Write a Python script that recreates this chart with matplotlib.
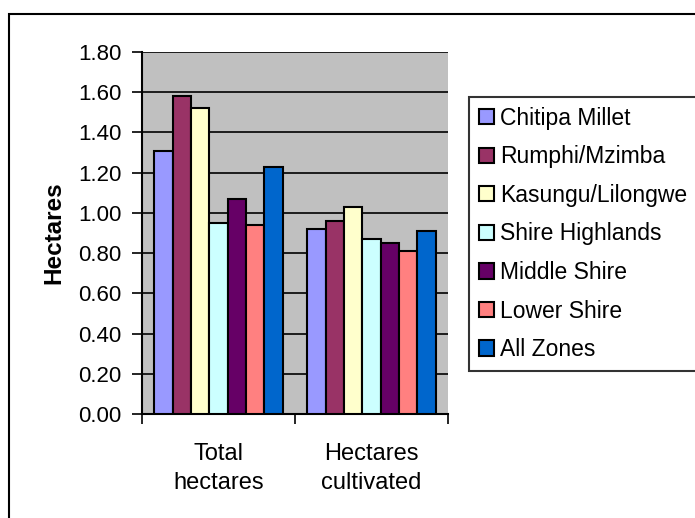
import matplotlib
matplotlib.use("Agg")
import matplotlib.pyplot as plt
from matplotlib.patches import Rectangle
import numpy as np

plt.rcParams["font.family"] = ["Liberation Sans", "DejaVu Sans"]

categories = ["Total\nhectares", "Hectares\ncultivated"]
zones = ["Chitipa Millet", "Rumphi/Mzimba", "Kasungu/Lilongwe", "Shire Highlands",
         "Middle Shire", "Lower Shire", "All Zones"]
chitipa = [1.31, 0.92]
rumphi = [1.58, 0.96]
kasungu = [1.52, 1.03]
shire_highlands = [0.95, 0.87]
middle_shire = [1.07, 0.85]
lower_shire = [0.94, 0.81]
all_zones = [1.23, 0.91]
series = [chitipa, rumphi, kasungu, shire_highlands, middle_shire, lower_shire, all_zones]
colors = ["#9999FF", "#993366", "#FFFFCC", "#CCFFFF", "#660066", "#FF8080", "#0066CC"]

W, H = 695, 518
fig = plt.figure(figsize=(W / 100, H / 100), dpi=100)
ax = fig.add_axes([142 / W, 1 - 414 / H, 306 / W, (414 - 52) / H])
ax.set_facecolor("#C0C0C0")

centers = np.arange(len(categories)) + 0.5
group = 0.84
bw = group / len(series)
for i, (vals, c, name) in enumerate(zip(series, colors, zones)):
    x = centers - group / 2 + bw * (i + 0.5)
    ax.bar(x, vals, width=bw, color=c, edgecolor="black", linewidth=1.5, label=name, zorder=3)

ax.set_xlim(0, 2)
ax.set_ylim(0, 1.8)
ax.set_yticks(np.arange(0, 1.81, 0.2))
ax.set_yticklabels([f"{v:.2f}" for v in np.arange(0, 1.81, 0.2)])
ax.yaxis.grid(True, color="black", linewidth=1.2, zorder=1)
ax.set_axisbelow(True)

# category edges get the tick marks, names sit between them
ax.set_xticks([0, 1, 2])
ax.set_xticklabels([])
ax.set_xticks(centers, minor=True)
ax.set_xticklabels(categories, minor=True, linespacing=1.38)
ax.tick_params(axis="x", which="minor", length=0, pad=21, labelsize=17)
ax.tick_params(axis="x", which="major", length=7, width=1.2, direction="out")
ax.tick_params(axis="y", length=7, width=1.2, direction="out", pad=8, labelsize=16)

for s in ["top", "right"]:
    ax.spines[s].set_visible(False)
for s in ["left", "bottom"]:
    ax.spines[s].set_linewidth(1.5)

ax.set_ylabel("Hectares", fontsize=17.5, fontweight="bold", labelpad=9)

leg = fig.legend(loc="upper left", bbox_to_anchor=(469 / W, 1 - 97 / H),
                 frameon=True, fancybox=False, edgecolor="black", fontsize=16.5,
                 handlelength=0.65, handleheight=0.65, handletextpad=0.3,
                 labelspacing=0.68, borderaxespad=0, borderpad=0.42)
leg.get_frame().set_linewidth(1.5)
for h in leg.legend_handles:
    h.set_linewidth(1.5)

fig.patches.append(Rectangle((9 / W, -0.1), 1.1, 1 - 14 / H + 0.1, transform=fig.transFigure,
                             fill=False, edgecolor="black", linewidth=1.5))

fig.savefig("out.png", dpi=100)
